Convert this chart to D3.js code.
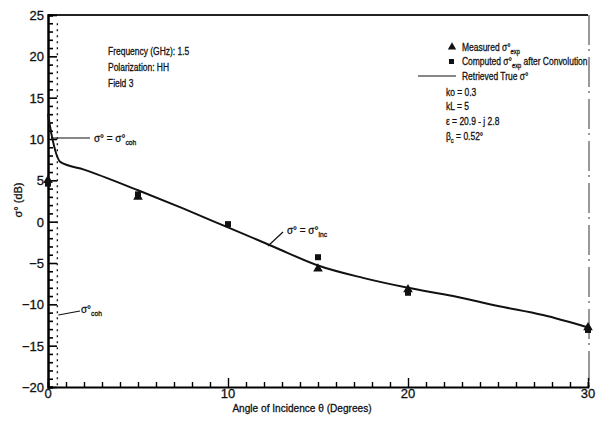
<!doctype html>
<html>
<head>
<style>
  body { margin: 0; background: #fff; }
  text { font-family: "Liberation Sans", Arial, sans-serif; fill: #111; stroke: #111; stroke-width: 0.3px; }
</style>
<script src="https://d3js.org/d3.v7.min.js"></script>
</head>
<body>
<svg width="599" height="426"></svg>
<script>
var xTicks = [0, 10, 20, 30];
var yTicks = [25, 20, 15, 10, 5, 0, -5, -10, -15, -20];

// Retrieved true sigma (line)
var lineAngle = [0, 0.2, 0.7, 2, 5, 7.5, 10, 12.5, 15, 17.5, 20, 22.5, 25, 27.5, 30];
var lineSigma = [13, 10.5, 7.2, 6.3, 3.8, 1.6, -0.7, -3.0, -5.3, -6.8, -8.0, -9.0, -10.2, -11.3, -12.8];

// Measured sigma_exp (triangles)
var measAngle = [0, 5, 15, 20, 30];
var measSigma = [5.0, 3.0, -5.7, -8.2, -12.8];

// Computed sigma_exp after convolution (squares)
var compAngle = [0, 5, 10, 15, 20, 30];
var compSigma = [4.6, 3.3, -0.3, -4.3, -8.6, -13.1];

var betaC = 0.52;

var svg = d3.select("svg");
var x = d3.scaleLinear().domain([0, 30]).range([48, 588]);
var y = d3.scaleLinear().domain([-20, 25]).range([387, 15]);

// text with sub/superscript parts, squeezed horizontally like the scanned typeface
function label(g, px, py, parts, size, sx) {
  var t = g.append("text")
    .attr("transform", "translate(" + px + "," + py + ") scale(" + (sx || 0.77) + ",1)")
    .style("font-size", (size || 11) + "px");
  var shift = 0;
  parts.forEach(function (p) {
    var sub = typeof p !== "string";
    var s = t.append("tspan").text(sub ? p.sub : p);
    var dy = (sub ? 3 : 0) - shift;
    if (dy) s.attr("dy", dy);
    if (sub) s.style("font-size", "7.5px");
    shift = sub ? 3 : 0;
  });
  return t;
}

// frame top/right
svg.append("line").attr("x1", x(0)).attr("x2", x(30)).attr("y1", y(25)).attr("y2", y(25))
  .attr("stroke", "#222").attr("stroke-width", 2);
svg.append("line").attr("x1", x(30) + 1).attr("x2", x(30) + 1).attr("y1", y(25)).attr("y2", y(-20))
  .attr("stroke", "#333").attr("stroke-width", 1).attr("stroke-dasharray", "30,4,2,6");

// left axis
var yAxis = svg.append("g").attr("transform", "translate(" + x(0) + ",0)")
  .call(d3.axisRight(y).tickValues(d3.range(-20, 26, 1)).tickSize(5).tickFormat(""));
yAxis.select(".domain").attr("stroke-width", 2.5);
yAxis.selectAll(".tick line").attr("stroke-width", 1.6)
  .attr("x2", function (d) { return d % 5 === 0 ? 9 : 5; });
svg.append("g").selectAll("text").data(yTicks).enter().append("text")
  .attr("x", x(0) - 4).attr("y", function (d) { return y(d) + 5; })
  .attr("text-anchor", "end").style("font-size", "13px")
  .text(function (d) { return d < 0 ? "\u2212" + (-d) : d; });

// bottom axis
var xAxis = svg.append("g").attr("transform", "translate(0," + y(-20) + ")")
  .call(d3.axisTop(x).tickValues(d3.range(0, 31, 1)).tickSize(5).tickFormat(""));
xAxis.select(".domain").attr("stroke-width", 1.8);
xAxis.selectAll(".tick line").attr("stroke-width", 1.4)
  .attr("y2", function (d) { return d % 10 === 0 ? -9 : -5; });
svg.append("g").selectAll("text").data(xTicks).enter().append("text")
  .attr("x", function (d) { return x(d); }).attr("y", 398)
  .attr("text-anchor", "middle").style("font-size", "13px")
  .text(function (d) { return d; });

// dotted beta_c line
svg.append("line").attr("x1", x(betaC)).attr("x2", x(betaC)).attr("y1", y(24)).attr("y2", y(-20))
  .attr("stroke", "#222").attr("stroke-width", 1.4).attr("stroke-dasharray", "2,4");

// retrieved line
var pts = lineAngle.map(function (a, i) { return [a, lineSigma[i]]; });
svg.append("path").datum(pts)
  .attr("fill", "none").attr("stroke", "#111").attr("stroke-width", 2)
  .attr("d", d3.line().x(function (d) { return x(d[0]); }).y(function (d) { return y(d[1]); }).curve(d3.curveMonotoneX));

// markers
svg.append("g").selectAll("path").data(measAngle).enter().append("path")
  .attr("transform", function (d, i) { return "translate(" + x(d) + "," + y(measSigma[i]) + ")"; })
  .attr("d", d3.symbol().type(d3.symbolTriangle).size(40)).attr("fill", "#111");
svg.append("g").selectAll("rect").data(compAngle).enter().append("rect")
  .attr("x", function (d) { return x(d) - 3; })
  .attr("y", function (d, i) { return y(compSigma[i]) - 3; })
  .attr("width", 6).attr("height", 6).attr("fill", "#111");

// annotations
var ann = svg.append("g");
ann.append("line").attr("x1", x(0) + 3).attr("x2", 90).attr("y1", 138).attr("y2", 138).attr("stroke", "#111").attr("stroke-width", 1.2);
label(ann, 94, 142, ["\u03c3\u00b0 = \u03c3\u00b0", { sub: "coh" }], 11, 0.9);
ann.append("line").attr("x1", x(betaC) + 1).attr("x2", 80).attr("y1", 315).attr("y2", 311).attr("stroke", "#111").attr("stroke-width", 1.2);
label(ann, 81, 313, ["\u03c3\u00b0", { sub: "coh" }], 11, 0.9);
ann.append("line").attr("x1", 283).attr("x2", 268).attr("y1", 232).attr("y2", 246).attr("stroke", "#111").attr("stroke-width", 1.2);
label(ann, 287, 234, ["\u03c3\u00b0 = \u03c3\u00b0", { sub: "inc" }], 11, 0.9);

// info text
var info = svg.append("g");
label(info, 108, 55, ["Frequency (GHz): 1.5"]);
label(info, 108, 71, ["Polarization:  HH"]);
label(info, 108, 87, ["Field 3"]);

// legend
var leg = svg.append("g");
leg.append("path").attr("transform", "translate(452,47)").attr("d", d3.symbol().type(d3.symbolTriangle).size(30)).attr("fill", "#111");
label(leg, 462, 51, ["Measured \u03c3\u00b0", { sub: "exp" }]);
leg.append("rect").attr("x", 449).attr("y", 59).attr("width", 5).attr("height", 5).attr("fill", "#111");
label(leg, 462, 65, ["Computed \u03c3\u00b0", { sub: "exp" }, " after Convolution"]);
leg.append("line").attr("x1", 418).attr("x2", 456).attr("y1", 76).attr("y2", 76).attr("stroke", "#111").attr("stroke-width", 1.2);
label(leg, 462, 80, ["Retrieved True \u03c3\u00b0"]);
label(leg, 446, 96, ["ko = 0.3"]);
label(leg, 446, 110, ["kL = 5"]);
label(leg, 446, 125, ["\u03b5 = 20.9 - j 2.8"]);
label(leg, 446, 140, ["\u03b2", { sub: "c" }, " = 0.52\u00b0"]);

// axis titles
svg.append("text").attr("transform", "translate(302,412) scale(0.92,1)")
  .attr("text-anchor", "middle").style("font-size", "11px")
  .text("Angle of Incidence \u03b8  (Degrees)");
svg.append("text").attr("transform", "translate(22,200) rotate(-90)")
  .attr("text-anchor", "middle").style("font-size", "11px").text("\u03c3\u00b0 (dB)");
</script>
</body>
</html>
